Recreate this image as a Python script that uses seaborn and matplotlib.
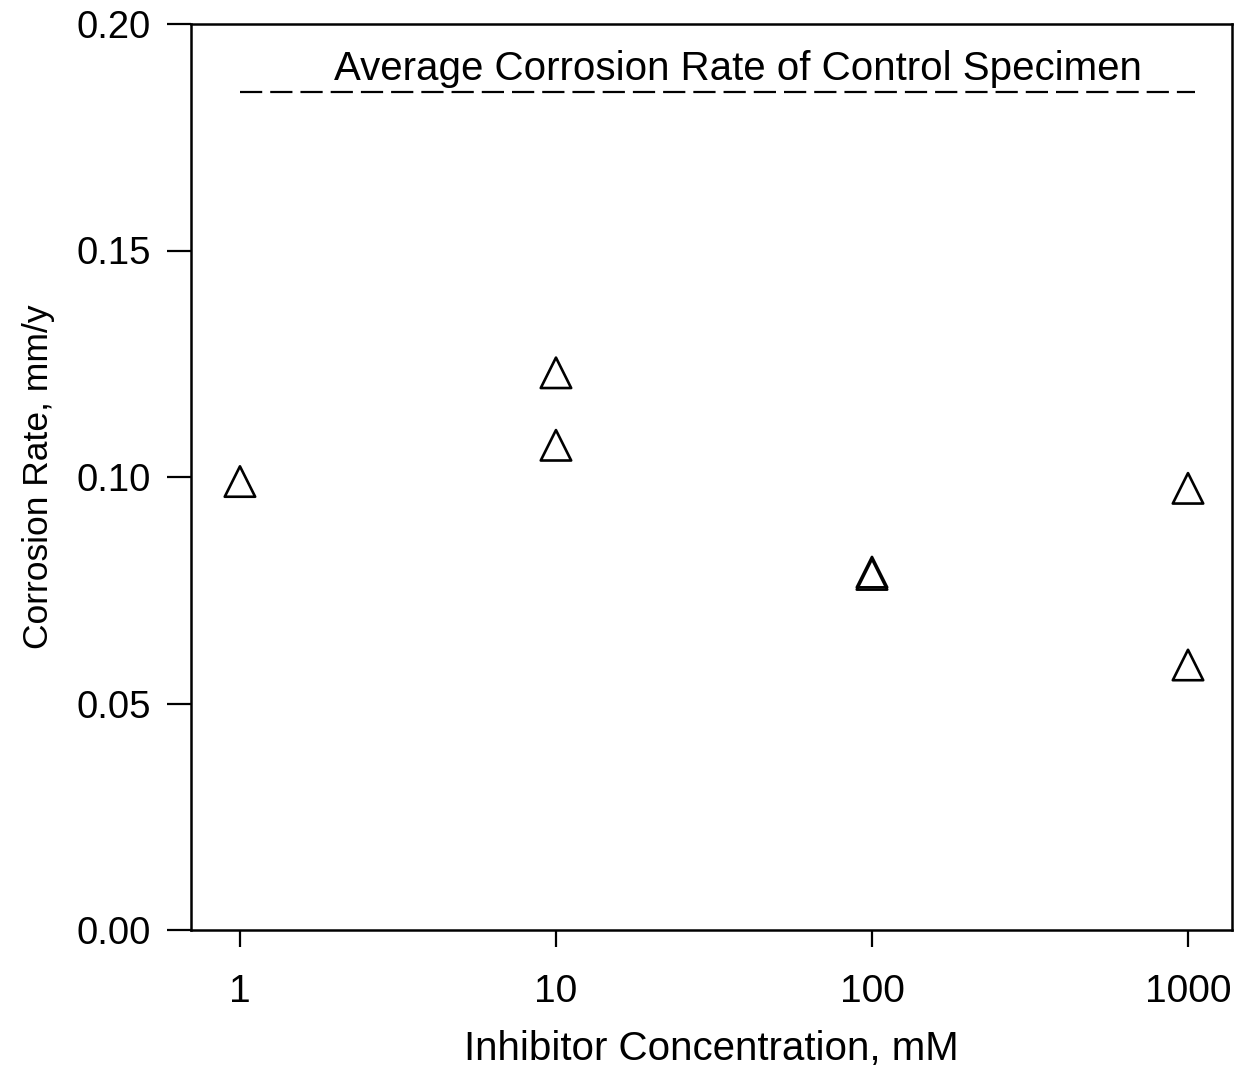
import matplotlib
matplotlib.use("Agg")
import matplotlib.pyplot as plt
import seaborn as sns
import pandas as pd
from matplotlib.ticker import FixedLocator, FixedFormatter, NullLocator

# Data
concentration = [1, 10, 10, 100, 100, 1000, 1000]
corrosion_rate = [0.099, 0.123, 0.107, 0.079, 0.0785, 0.0975, 0.0585]
control_rate = 0.185
x_ticks = [1, 10, 100, 1000]
x_tick_labels = ["1", "10", "100", "1000"]
y_ticks = [0.00, 0.05, 0.10, 0.15, 0.20]
y_tick_labels = ["0.00", "0.05", "0.10", "0.15", "0.20"]

sns.set_style("ticks")
plt.rcParams['font.family'] = ['Liberation Sans', 'DejaVu Sans']
plt.rcParams['text.color'] = 'black'
plt.rcParams['axes.labelcolor'] = 'black'
plt.rcParams['xtick.color'] = 'black'
plt.rcParams['ytick.color'] = 'black'

df = pd.DataFrame({"conc": concentration, "rate": corrosion_rate})

fig = plt.figure(figsize=(12.37, 10.66), dpi=100)
ax = fig.add_axes([191/1237, 136/1066, (1232-191)/1237, (930-24)/1066])

sns.scatterplot(data=df, x="conc", y="rate", marker="^", s=480,
                facecolor="none", edgecolor="black", linewidth=1.9, ax=ax, zorder=3)

ax.set_xscale("log")
ax.set_xlim(0.70, 1378)
ax.set_ylim(0, 0.20)

ax.plot([1, 1050], [control_rate, control_rate], color="black", lw=1.6,
        dashes=(10, 3.6))
ax.text(0.525, 0.1900, "Average Corrosion Rate of Control Specimen",
        transform=ax.get_yaxis_transform(), ha="center", va="center",
        fontsize=29)

ax.xaxis.set_major_locator(FixedLocator(x_ticks))
ax.xaxis.set_major_formatter(FixedFormatter(x_tick_labels))
ax.xaxis.set_minor_locator(NullLocator())
ax.yaxis.set_major_locator(FixedLocator(y_ticks))
ax.yaxis.set_major_formatter(FixedFormatter(y_tick_labels))

ax.tick_params(axis="x", direction="out", length=12, width=1.6, pad=20, labelsize=28)
ax.tick_params(axis="y", direction="out", length=17, width=1.6, pad=12, labelsize=27.5)

for sp in ax.spines.values():
    sp.set_linewidth(1.8)
    sp.set_color("black")

ax.set_xlabel("Inhibitor Concentration, mM", fontsize=29, labelpad=14)
ax.set_ylabel("Corrosion Rate, mm/y", fontsize=25.5, labelpad=15)

fig.savefig("out.png", dpi=100)
